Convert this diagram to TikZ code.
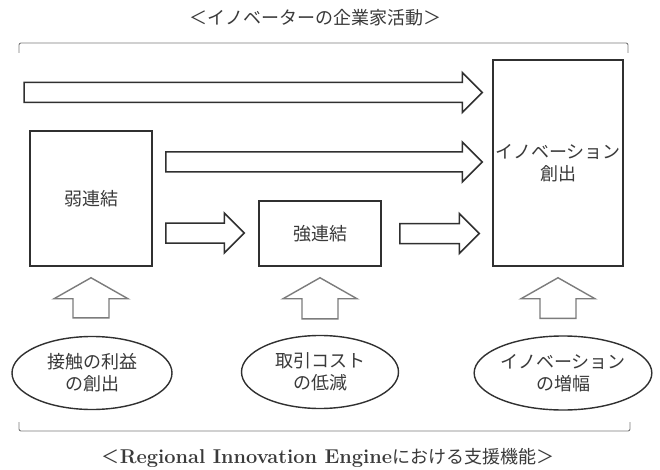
\documentclass[tikz,border=0pt]{standalone}
\usepackage{fontspec}
\newfontfamily\jp{Noto Sans CJK JP}
\usetikzlibrary{calc,shapes.geometric}
\definecolor{ink}{HTML}{303030}
\definecolor{txt}{HTML}{3A3A3A}
\definecolor{soft}{HTML}{7C7C7C}
\tikzset{
  box/.style={draw=ink, line width=1.5pt, font=\jp\fontsize{18}{22}\selectfont, text=txt, align=center, inner sep=0pt},
  oval/.style={ellipse, draw=ink, line width=1.4pt, font=\jp\fontsize{18}{22}\selectfont, text=txt, align=center, inner sep=0pt},
  fat/.style={draw=ink, line width=1.5pt, line join=miter},
  upfat/.style={draw=soft, line width=1.4pt, line join=miter},
  brace/.style={draw=soft, line width=0.9pt, rounded corners=2pt},
  lbl/.style={font=\jp\fontsize{18}{22}\selectfont, text=txt, inner sep=0pt}
}
\newcommand\harrow[3][fat]{\draw[#1] let \p1=#2, \p2=#3 in
  ({\x1},{\y1+10pt}) -- ({\x2-20pt},{\y1+10pt}) -- ({\x2-20pt},{\y1+20pt}) -- ({\x2},{\y1})
  -- ({\x2-20pt},{\y1-20pt}) -- ({\x2-20pt},{\y1-10pt}) -- ({\x1},{\y1-10pt}) -- cycle;}
\newcommand\uarrow[3][upfat]{\draw[#1] let \p1=#2, \p2=#3 in
  ({\x1-18pt},{\y1}) -- ({\x1-18pt},{\y2-21pt}) -- ({\x1-37pt},{\y2-21pt}) -- ({\x1},{\y2})
  -- ({\x1+37pt},{\y2-21pt}) -- ({\x1+18pt},{\y2-21pt}) -- ({\x1+18pt},{\y1}) -- cycle;}
\begin{document}
\begin{tikzpicture}[x=1pt,y=-1pt]
\useasboundingbox (0,0) rectangle (660,470);
\fill[white] (0,0) rectangle (660,470);

% titles
\node[lbl] (title) at (315,18) {＜イノベーターの企業家活動＞};
\node[lbl] (foot) at (328,458) {＜{\rmfamily\bfseries\fontsize{20}{22}\selectfont Regional Innovation Engine}における支援機能＞};

% brackets
\draw[brace] (19,53) -- (19,43) -- (628,43) -- (628,53);
\draw[brace] (19,422) -- (19,431) -- (630,431) -- (630,422);

% boxes
\node[box, minimum width=122pt, minimum height=135pt] (weak) at (91,198.5) {弱連結};
\node[box, minimum width=122pt, minimum height=65pt] (strong) at (320,233.5) {強連結};
\node[box, minimum width=130pt, minimum height=206pt] (innov) at (558,163) {イノベーション\\創出};

% ellipses
\node[oval, minimum width=160pt, minimum height=73pt] (ell1) at (92,373) {接触の利益\\の創出};
\node[oval, minimum width=157pt, minimum height=73pt] (ell2) at (320,372) {取引コスト\\の低減};
\node[oval, minimum width=176pt, minimum height=74pt] (ell3) at (563,373) {イノベーション\\の増幅};

% horizontal arrow end points
\coordinate (a1s) at (24,92.5);
\coordinate (a1e) at ($(innov.west |- a1s)+(-10,0)$);
\coordinate (a2s) at ($(weak.east)+(13,-36.5)$);
\coordinate (a2e) at ($(innov.west |- a2s)+(-10,0)$);
\coordinate (a3s) at ($(weak.east)+(13,34.5)$);
\coordinate (a3e) at ($(strong.west |- a3s)+(-14,0)$);
\coordinate (a4s) at ($(strong.east)+(18,0)$);
\coordinate (a4e) at ($(innov.west |- a4s)+(-13,0)$);

\harrow{(a1s)}{(a1e)}
\harrow{(a2s)}{(a2e)}
\harrow{(a3s)}{(a3e)}
\harrow{(a4s)}{(a4e)}

% up arrows
\uarrow{($(ell1.north -| weak.south)+(0,-18)$)}{($(weak.south)+(0,11)$)}
\uarrow{($(ell2.north -| strong.south)+(0,-16)$)}{($(strong.south)+(0,11)$)}
\uarrow{($(ell3.north -| innov.south)+(0,-17)$)}{($(innov.south)+(0,11)$)}
\end{tikzpicture}
\end{document}
